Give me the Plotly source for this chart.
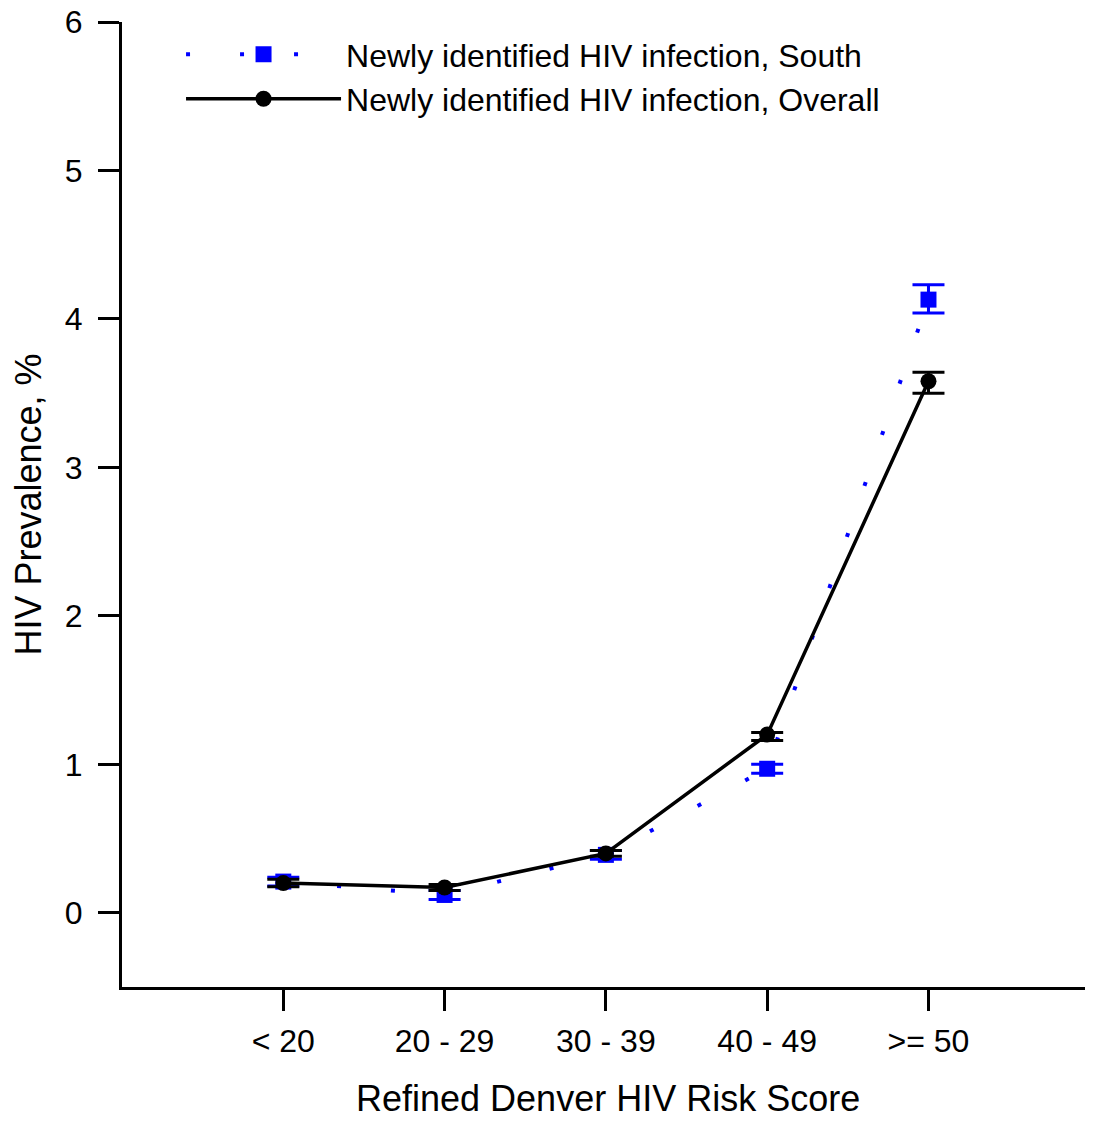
import plotly.graph_objects as go

categories = ["< 20", "20 - 29", "30 - 39", "40 - 49", ">= 50"]

south_vals = [0.21, 0.12, 0.39, 0.97, 4.13]
south_err_plus = [0.03, 0.03, 0.03, 0.03, 0.10]
south_err_minus = [0.03, 0.03, 0.03, 0.03, 0.09]

overall_vals = [0.20, 0.17, 0.40, 1.20, 3.58]
overall_err_plus = [0.025, 0.02, 0.02, 0.015, 0.06]
overall_err_minus = [0.025, 0.02, 0.02, 0.04, 0.08]

x_title = "Refined Denver HIV Risk Score"
y_title = "HIV Prevalence, %"

FONT = "Liberation Sans, Arial, sans-serif"

fig = go.Figure()

fig.add_trace(go.Scatter(
    x=categories, y=south_vals,
    mode="lines+markers",
    name="Newly identified HIV infection, South",
    line=dict(color="#0000ff", width=4, dash="4px,50px"),
    marker=dict(symbol="square", size=16, color="#0000ff"),
    error_y=dict(type="data", symmetric=False, array=south_err_plus,
                 arrayminus=south_err_minus, color="#0000ff",
                 thickness=3, width=16),
))

fig.add_trace(go.Scatter(
    x=categories, y=overall_vals,
    mode="lines+markers",
    name="Newly identified HIV infection, Overall",
    line=dict(color="#000000", width=3.5),
    marker=dict(symbol="circle", size=16, color="#000000"),
    error_y=dict(type="data", symmetric=False, array=overall_err_plus,
                 arrayminus=overall_err_minus, color="#000000",
                 thickness=3, width=16),
))

fig.add_annotation(
    text=x_title, xref="paper", yref="paper", x=0.5, y=0,
    xanchor="center", yanchor="middle", yshift=-111, showarrow=False,
    font=dict(family=FONT, size=36, color="black"),
)

fig.update_layout(
    width=1085, height=1107,
    margin=dict(l=114, r=0, t=14, b=128, autoexpand=False),
    paper_bgcolor="white", plot_bgcolor="white",
    font=dict(family=FONT, size=32, color="black"),
    showlegend=True,
    legend=dict(x=0.0608, y=0.995, xanchor="left", yanchor="top",
                bgcolor="rgba(0,0,0,0)", itemwidth=155,
                font=dict(family=FONT, size=32, color="black"),
                tracegroupgap=0),
    xaxis=dict(
        type="category", range=[-1, 5.02], automargin=False,
        showline=True, linewidth=3, linecolor="black",
        ticks="outside", ticklen=21, tickwidth=3, tickcolor="black",
        ticklabelstandoff=3,
        showgrid=False, zeroline=False,
        tickfont=dict(family=FONT, size=32),
    ),
    yaxis=dict(
        range=[-0.5, 6], tickvals=[0, 1, 2, 3, 4, 5, 6], automargin=False,
        showline=True, linewidth=3, linecolor="black",
        ticks="outside", ticklen=21, tickwidth=3, tickcolor="black",
        ticklabelstandoff=9, ticklabeloverflow="allow",
        showgrid=False, zeroline=False,
        tickfont=dict(family=FONT, size=32),
        title=dict(text=y_title, standoff=31,
                   font=dict(family=FONT, size=36)),
    ),
)

fig.write_html("out.html")
